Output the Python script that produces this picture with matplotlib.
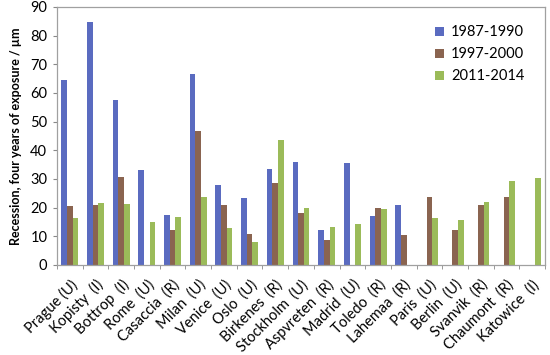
import numpy as np
import matplotlib
matplotlib.use("Agg")
import matplotlib.pyplot as plt

plt.rcParams['font.family'] = ['Lato', 'DejaVu Sans']

sites = ["Prague (U)", "Kopisty  (I)", "Bottrop  (I)", "Rome  (U)",
         "Casaccia  (R)", "Milan  (U)", "Venice  (U)", "Oslo  (U)",
         "Birkenes  (R)", "Stockholm  (U)", "Aspvreten  (R)", "Madrid  (U)",
         "Toledo  (R)", "Lahemaa  (R)", "Paris  (U)", "Berlin  (U)",
         "Svanvik  (R)", "Chaumont  (R)", "Katowice  (I)"]

nan = np.nan
p1987 = [64.4, 84.8, 57.5, 33.1, 17.4, 66.7, 27.8, 23.3, 33.5, 36.1,
         12.1, 35.6, 17.0, 21.1, nan, nan, nan, nan, nan]
p1997 = [20.5, 20.8, 30.8, nan, 12.1, 46.8, 21.0, 10.7, 28.7, 18.1,
         8.7, nan, 19.8, 10.5, 23.6, 12.1, 21.0, 23.6, nan]
p2011 = [16.5, 21.7, 21.2, 14.9, 16.9, 23.6, 13.0, 7.9, 43.5, 19.9,
         13.4, 14.4, 19.7, nan, 16.4, 15.6, 22.1, 29.2, 30.4]

series = ["1987-1990", "1997-2000", "2011-2014"]
colors = ["#5A6BC0", "#8A6450", "#9BBB59"]


def main():
    fig = plt.figure(figsize=(5.5, 3.55), dpi=100)
    ax = fig.add_axes([57 / 550, 90 / 355, 488 / 550, 258 / 355])

    x = np.arange(len(sites))
    w = 0.22
    for i, (vals, name, c) in enumerate(zip([p1987, p1997, p2011], series, colors)):
        ax.bar(x + (i - 1) * w, vals, width=w, color=c, label=name)

    ax.set_xlim(-0.5, len(sites) - 0.5)
    ax.set_ylim(0, 90)
    ax.set_yticks(range(0, 91, 10))
    ax.tick_params(axis='y', labelsize=10.5, length=3, color="#888888", pad=4)
    ax.set_xticks(x)
    ax.set_xticklabels(sites, rotation=45, ha='right', va='top',
                       rotation_mode='anchor', fontsize=10.5)
    ax.tick_params(axis='x', length=0, pad=9)
    ax.set_xticks(np.arange(-0.5, len(sites), 1), minor=True)
    ax.tick_params(axis='x', which='minor', length=3, color="#888888")
    for s in ax.spines.values():
        s.set_color("#A0A0A0")
        s.set_linewidth(0.9)

    ax.set_ylabel("Recession, four years of exposure / µm", fontsize=9,
                  fontweight='bold', labelpad=6)

    ax.legend(loc='upper right', frameon=False, fontsize=10.5, handlelength=0.6,
              handleheight=0.6, labelspacing=0.55, handletextpad=0.5,
              bbox_to_anchor=(0.985, 0.98))

    fig.savefig("out.png", dpi=100)


if __name__ == "__main__":
    main()
